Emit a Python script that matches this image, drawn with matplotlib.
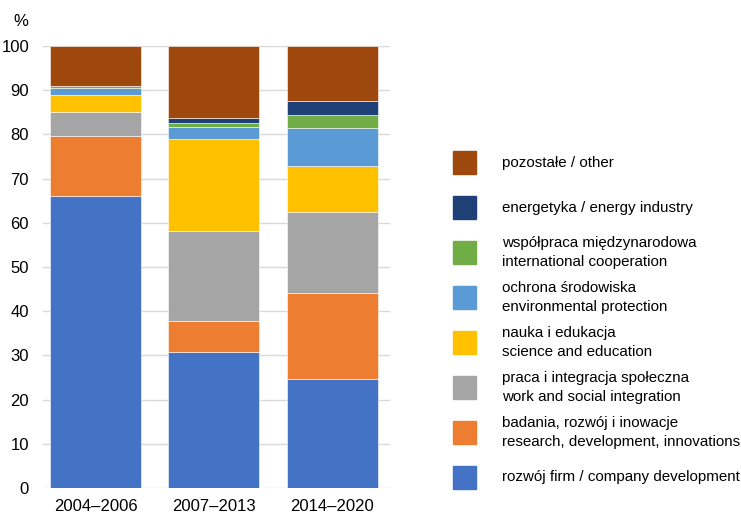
import matplotlib.pyplot as plt
from matplotlib.patches import Rectangle
import numpy as np

plt.rcParams['font.family'] = ['Liberation Sans', 'DejaVu Sans']

# okresy programowania
periods = ['2004–2006', '2007–2013', '2014–2020']

# udziały (%) od dołu do góry
company = [66.1, 30.8, 24.7]
research = [13.5, 7.0, 19.5]
work = [5.5, 20.4, 18.2]
science = [3.8, 20.8, 10.5]
environment = [1.7, 2.7, 8.5]
international = [0.4, 0.9, 3.1]
energy = [0.0, 1.2, 3.0]
other = [9.0, 16.2, 12.5]

labels = [
    'rozwój firm / company development',
    'badania, rozwój i inowacje\nresearch, development, innovations',
    'praca i integracja społeczna\nwork and social integration',
    'nauka i edukacja\nscience and education',
    'ochrona środowiska\nenvironmental protection',
    'współpraca międzynarodowa\ninternational cooperation',
    'energetyka / energy industry',
    'pozostałe / other',
]
colors = ['#4472C4', '#ED7D31', '#A5A5A5', '#FFC000',
          '#5B9BD5', '#70AD47', '#1F3F77', '#9E480E']
series = [company, research, work, science, environment, international, energy, other]

fig = plt.figure(figsize=(7.41, 5.17), dpi=100)
ax = fig.add_axes([0.058, 0.056, 0.468, 0.855])

x = np.arange(len(periods))
bottom = np.zeros(len(periods))
for vals, col in zip(series, colors):
    ax.bar(x, vals, 0.77, bottom=bottom, color=col, edgecolor='white', linewidth=0.4, zorder=3)
    bottom += np.array(vals)

ax.set_xlim(-0.443, 2.485)
ax.set_ylim(0, 100)
ax.set_yticks(range(0, 101, 10))
ax.set_xticks(x)
ax.set_xticklabels(periods)
ax.tick_params(axis='both', length=0, labelsize=12, colors='black')
ax.tick_params(axis='y', pad=10)
ax.tick_params(axis='x', pad=8)
ax.grid(axis='y', color='#D9D9D9', linewidth=1, zorder=0)
for s in ax.spines.values():
    s.set_visible(False)

fig.text(21 / 741, 1 - 21 / 517, '%', fontsize=12, ha='center', va='center')

# legenda - od góry: pozostałe ... rozwój firm
y_top = 163
pitch = 44.9
for i, idx in enumerate(range(len(labels) - 1, -1, -1)):
    yc = y_top + i * pitch
    fig.patches.append(Rectangle((453 / 741, 1 - (yc + 11.5) / 517), 23 / 741, 23 / 517,
                                 transform=fig.transFigure, color=colors[idx]))
    fig.text(502 / 741, 1 - yc / 517, labels[idx], fontsize=10.9, va='center', ha='left',
             linespacing=1.45)

fig.savefig('out.png', dpi=100)
